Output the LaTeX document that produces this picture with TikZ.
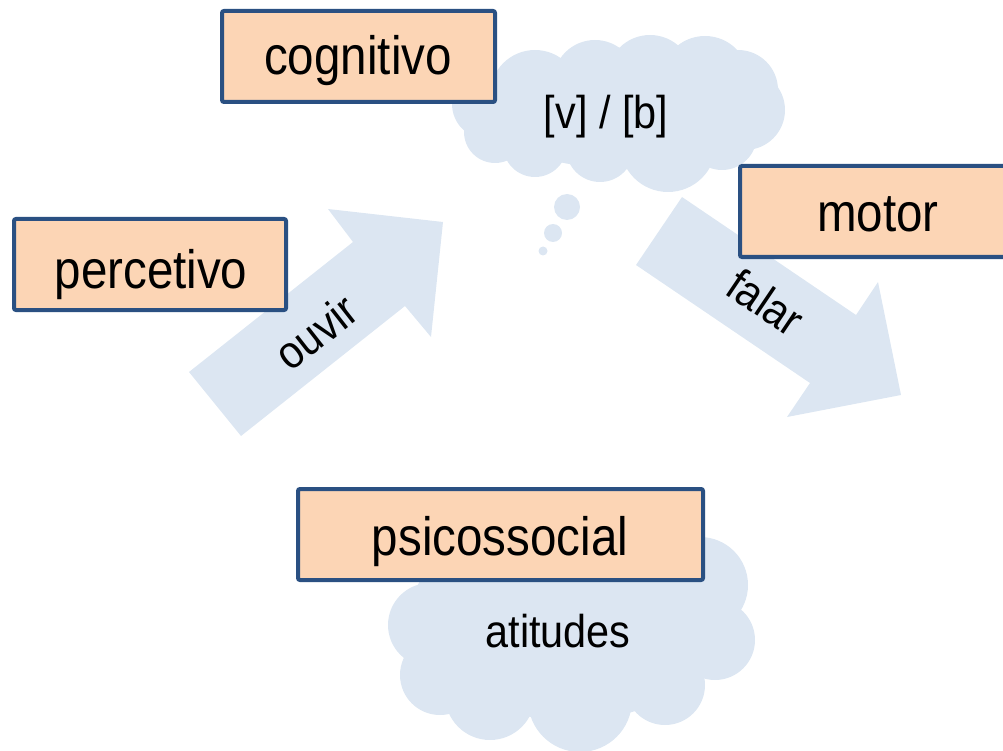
\documentclass[tikz,border=0pt]{standalone}
\usepackage{fontspec}
\setmainfont{Liberation Sans}
\newfontfamily\bigcond[FakeStretch=0.88]{Liberation Sans}
\newfontfamily\smallcond[FakeStretch=0.9]{Liberation Sans}
\definecolor{boxfill}{HTML}{FCD5B5}
\definecolor{boxline}{HTML}{2A5082}
\definecolor{cloudcol}{HTML}{DCE6F2}
\begin{document}
\begin{tikzpicture}[x=1pt,y=-1pt,
  box/.style={draw=boxline, fill=boxfill, line width=4pt, rounded corners=2pt, inner sep=0pt},
  boxtext/.style={anchor=base, inner sep=0pt, font=\bigcond\fontsize{54}{60}\selectfont},
  labeltext/.style={inner sep=0pt, font=\smallcond\fontsize{46}{52}\selectfont},
  cloudfill/.style={fill=cloudcol, draw=none}]
\useasboundingbox (0,0) rectangle (1003,751);
\clip (0,0) rectangle (1003,751);
% cloud 1 (cognitive)
\begin{scope}[cloudfill]
\fill[cloudcol] (618,113) ellipse [x radius=130pt, y radius=55pt];
\fill[cloudcol] (487,104) circle [radius=35pt];
\fill[cloudcol] (495,132) circle [radius=31pt];
\fill[cloudcol] (535,145) circle [radius=32pt];
\fill[cloudcol] (600,148) circle [radius=34pt];
\fill[cloudcol] (668,144) circle [radius=48pt];
\fill[cloudcol] (722,135) circle [radius=35pt];
\fill[cloudcol] (745,110) circle [radius=40pt];
\fill[cloudcol] (738,90) circle [radius=40pt];
\fill[cloudcol] (705,80) circle [radius=44pt];
\fill[cloudcol] (650,78) circle [radius=43pt];
\fill[cloudcol] (595,82) circle [radius=42pt];
\fill[cloudcol] (535,95) circle [radius=45pt];
% thought bubbles
\fill[cloudcol] (567,207) circle [radius=13pt];
\fill[cloudcol] (553,233) circle [radius=9pt];
\fill[cloudcol] (543,251) circle [radius=4.5pt];
% cloud 2 (psychosocial)
\fill[cloudcol] (570,630) ellipse [x radius=150pt, y radius=90pt];
\fill[cloudcol] (430,625) circle [radius=42pt];
\fill[cloudcol] (440,675) circle [radius=40pt];
\fill[cloudcol] (490,695) circle [radius=45pt];
\fill[cloudcol] (580,700) circle [radius=52pt];
\fill[cloudcol] (665,685) circle [radius=40pt];
\fill[cloudcol] (715,640) circle [radius=40pt];
\fill[cloudcol] (700,585) circle [radius=48pt];
\fill[cloudcol] (455,600) circle [radius=40pt];
\end{scope}
% block arrows
\coordinate (ouA) at (189,372);
\coordinate (ouB) at (353,242);
\coordinate (ouC) at (328,209);
\coordinate (ouT) at (443,222);
\coordinate (ouD) at (431,337);
\coordinate (ouE) at (405,306);
\coordinate (ouF) at (241,436);
\fill[cloudcol] (ouA) -- (ouB) -- (ouC) -- (ouT) -- (ouD) -- (ouE) -- (ouF) -- cycle;
\coordinate (faA) at (682,197);
\coordinate (faB) at (856,315);
\coordinate (faC) at (878,282);
\coordinate (faT) at (901,395);
\coordinate (faD) at (787,417);
\coordinate (faE) at (810,383);
\coordinate (faF) at (636,265);
\fill[cloudcol] (faA) -- (faB) -- (faC) -- (faT) -- (faD) -- (faE) -- (faF) -- cycle;
\node[labeltext, rotate=38] (ouvir) at (316,332) {ouvir};
\node[labeltext, rotate=-34] (falar) at (766,302) {falar};
% boxes
\node[box, minimum width=273pt, minimum height=91pt] (cog) at (358.5,56.5) {};
\node[box, minimum width=272pt, minimum height=91pt] (per) at (150,264.5) {};
\node[box, minimum width=276pt, minimum height=91pt] (mot) at (878,211.5) {};
\node[box, minimum width=405pt, minimum height=91pt] (psi) at (500.5,534.5) {};
\node[boxtext] (tcog) at (358,75) {cognitivo};
\node[boxtext] (tper) at (151,288) {percetivo};
\node[boxtext] (tmot) at (878,232) {motor};
\node[boxtext] (tpsi) at (500,555) {psicossocial};
% cloud texts
\node[labeltext, anchor=base] (vb) at (606,129) {[v] / [b]};
\node[labeltext, anchor=base] (att) at (558,647) {atitudes};
\end{tikzpicture}
\end{document}
